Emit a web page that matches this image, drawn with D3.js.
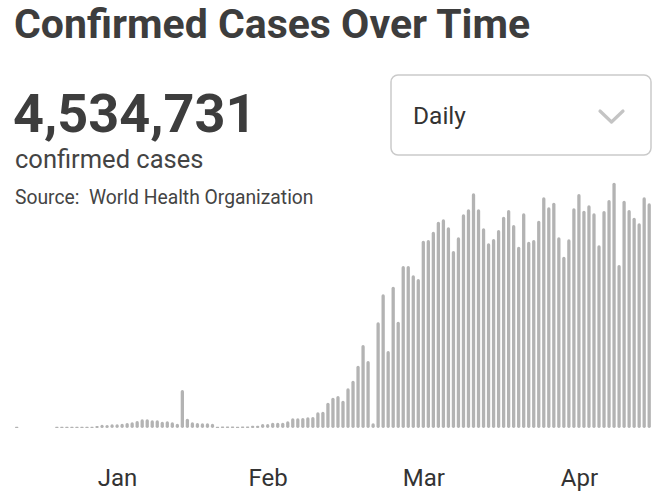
<!DOCTYPE html>
<html>
<head>
<meta charset="utf-8">
<script src="https://cdn.jsdelivr.net/npm/d3@7"></script>
<style>
  html, body { margin: 0; padding: 0; background: #ffffff; }
  svg { display: block; font-family: Roboto, "Noto Sans", sans-serif; }
</style>
</head>
<body>
<svg id="chart" width="658" height="498"></svg>
<script>
// ---------- DATA ----------
const title = "Confirmed Cases Over Time";
const totalCases = 4534731;
const totalLabel = "confirmed cases";
const sourceLabel = "Source:  World Health Organization";
const dropdownLabel = "Daily";
const startDate = "2020-01-11";
// daily new confirmed cases, one per day from startDate
const dailyCases = [
  100, 0, 0, 0, 0, 0, 0, 0, 150, 150,
  150, 150, 150, 150, 400, 520, 800, 1300, 1200, 1500,
  1500, 1700, 2000, 2300, 2800, 3500, 3500, 3100, 3100, 2500,
  2700, 2300, 1700, 15200, 3700, 2300, 2000, 1900, 1900, 1700,
  200, 600, 600, 600, 200, 600, 600, 900, 900, 1600,
  1600, 2100, 2100, 2100, 2700, 3900, 3900, 4000, 4300, 4400,
  6300, 6500, 10100, 12100, 12800, 10900, 15900, 18900, 24900, 33200,
  26800, 1900, 42300, 53500, 30800, 56500, 42500, 64800, 64800, 61100,
  59600, 74900, 75200, 78500, 82500, 83500, 80300, 70800, 76300, 85500,
  87500, 93900, 87500, 79900, 73900, 75600, 79200, 84500, 87200, 81200,
  72500, 85900, 74500, 75200, 82900, 92300, 88300, 90100, 76300, 68500,
  75500, 87900, 93600, 86900, 89100, 85900, 73100, 86800, 91200, 98100,
  65200, 90900, 87200, 84100, 81900, 92300, 89900
];
const monthLabels = ["Jan", "Feb", "Mar", "Apr"];
const monthLabelDates = ["2020-01-31", "2020-03-01", "2020-04-01", "2020-05-02"];

// ---------- DRAW ----------
const svg = d3.select("#chart");
const parse = d3.utcParse("%Y-%m-%d");
const t0 = parse(startDate);
const dates = dailyCases.map((_, i) => d3.utcDay.offset(t0, i));

const x = d3.scaleUtc()
  .domain([dates[0], dates[dates.length - 1]])
  .range([16.7, 649.2]);
const baseY = 428;
const y = d3.scaleLinear().domain([0, 100000]).range([baseY, 178]);

// header texts
svg.append("text").attr("x", 14).attr("y", 38)
  .attr("font-size", 41).attr("font-weight", 700).attr("fill", "#3d3d3d")
  .text(title);
svg.append("text").attr("x", 13).attr("y", 132)
  .attr("font-size", 54).attr("font-weight", 700).attr("fill", "#3d3d3d")
  .text(d3.format(",")(totalCases));
svg.append("text").attr("x", 15).attr("y", 168)
  .attr("font-size", 25.5).attr("fill", "#444")
  .text(totalLabel);
svg.append("text").attr("x", 15).attr("y", 204)
  .attr("font-size", 19.3).attr("fill", "#444")
  .style("white-space", "pre")
  .text(sourceLabel);

// dropdown
const dd = svg.append("g");
dd.append("rect").attr("x", 391).attr("y", 75).attr("width", 260).attr("height", 80)
  .attr("rx", 7).attr("fill", "#fff").attr("stroke", "#cacaca").attr("stroke-width", 1.5);
dd.append("text").attr("x", 413).attr("y", 124)
  .attr("font-size", 24.5).attr("fill", "#333").text(dropdownLabel);
dd.append("path").attr("d", "M600,111 L611.5,122 L623,111")
  .attr("fill", "none").attr("stroke", "#c4c4c4").attr("stroke-width", 3.2)
  .attr("stroke-linecap", "round").attr("stroke-linejoin", "round");

// bars
const bw = 3.3;
svg.append("g").selectAll("rect")
  .data(dailyCases.map((v, i) => ({ v, d: dates[i] })).filter(o => o.v > 0))
  .join("rect")
  .attr("x", o => x(o.d) - bw / 2)
  .attr("width", bw)
  .attr("y", o => Math.min(y(o.v), baseY - 1.2))
  .attr("height", o => Math.max(baseY - y(o.v), 1.2))
  .attr("rx", o => Math.min(bw / 2, Math.max(baseY - y(o.v), 1.2) / 2))
  .attr("fill", "#b3b3b3");

// month axis
const axis = d3.axisBottom(x)
  .tickValues(monthLabelDates.map(parse))
  .tickSize(0)
  .tickPadding(0)
  .tickFormat((d, i) => monthLabels[i]);
const gAxis = svg.append("g").attr("transform", "translate(0,469)").call(axis);
gAxis.select(".domain").remove();
gAxis.selectAll("text")
  .attr("font-family", "Roboto, 'Noto Sans', sans-serif")
  .attr("font-size", 24).attr("fill", "#333").attr("dy", "0.71em");
</script>
</body>
</html>
